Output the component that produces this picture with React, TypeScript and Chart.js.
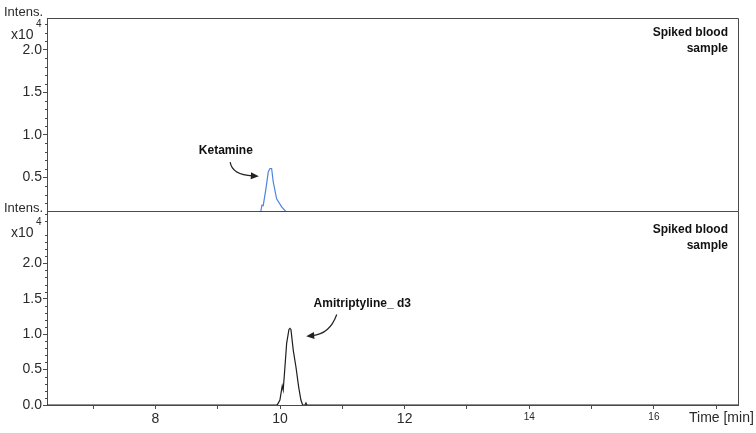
import React, { useEffect, useRef } from 'react';
import { Chart, registerables } from 'chart.js';

Chart.register(...registerables);

// ---------- data ----------
const ketTime = [6.26, 9.68, 9.693, 9.709, 9.73, 9.774, 9.811, 9.838, 9.865, 9.891, 9.945, 10.026, 10.095, 10.11, 17.35];
const ketIntensity = [0, 0, 0.11, 0.175, 0.17, 0.37, 0.566, 0.606, 0.606, 0.45, 0.25, 0.155, 0.1, 0, 0];

const amiTime = [6.26, 9.95, 9.961, 9.998, 10.035, 10.051, 10.079, 10.106, 10.143, 10.159, 10.175, 10.212, 10.255, 10.298, 10.335, 10.363, 10.40, 10.416, 10.43, 17.35];
const amiIntensity = [0, 0, 0.01, 0.07, 0.27, 0.21, 0.54, 0.87, 1.066, 1.08, 1.066, 0.775, 0.54, 0.26, 0.07, 0, 0, 0.03, 0, 0];

const xTickValues = [7, 8, 9, 10, 11, 12, 13, 14, 15, 16, 17];
const xLabelValues = [8, 10, 12, 14, 16];
const xSmallLabelValues = [14, 16];
const topYTicks = [0.5, 1.0, 1.5, 2.0];
const bottomYTicks = [0, 0.5, 1.0, 1.5, 2.0];

const sampleLines = ['Spiked blood', 'sample'];
const ketLabel = { text: 'Ketamine', x: 9.13, y: 0.82 };
const ketArrow = { from: [9.2, 0.68], ctrl: [9.23, 0.53], to: [9.66, 0.515] };
const amiLabel = { text: 'Amitriptyline_ d3', x: 11.32, y: 1.43 };
const amiArrow = { from: [10.91, 1.276], ctrl: [10.8, 1.0], to: [10.42, 0.97] };

const X_MIN = 6.26;
const X_MAX = 17.35;
const TOP_Y_MIN = 0.107;
const TOP_Y_MAX = 2.373;
const BOT_Y_MIN = 0;
const BOT_Y_MAX = 2.737;

// ---------- styles ----------
const FONT = "'Liberation Sans', Arial, Helvetica, sans-serif";
const AXIS_COLOR = '#4a4a4a';
const TEXT_COLOR = '#2a2a2a';
const BLUE = '#4f83e0';
const BLACK = '#1e1e1e';

function drawArrow(ctx: CanvasRenderingContext2D, x: any, y: any, arrow: any) {
  const p0 = [x.getPixelForValue(arrow.from[0]), y.getPixelForValue(arrow.from[1])];
  const c = [x.getPixelForValue(arrow.ctrl[0]), y.getPixelForValue(arrow.ctrl[1])];
  const p1 = [x.getPixelForValue(arrow.to[0]), y.getPixelForValue(arrow.to[1])];
  const ang = Math.atan2(p1[1] - c[1], p1[0] - c[0]);
  const headLen = 8;
  const headW = 3.5;
  const bx = p1[0] - Math.cos(ang) * headLen;
  const by = p1[1] - Math.sin(ang) * headLen;
  ctx.save();
  ctx.strokeStyle = '#222';
  ctx.fillStyle = '#222';
  ctx.lineWidth = 1.2;
  ctx.beginPath();
  ctx.moveTo(p0[0], p0[1]);
  ctx.quadraticCurveTo(c[0], c[1], bx + Math.cos(ang) * 2, by + Math.sin(ang) * 2);
  ctx.stroke();
  ctx.beginPath();
  ctx.moveTo(p1[0], p1[1]);
  ctx.lineTo(bx - Math.sin(ang) * headW, by + Math.cos(ang) * headW);
  ctx.lineTo(bx + Math.sin(ang) * headW, by - Math.cos(ang) * headW);
  ctx.closePath();
  ctx.fill();
  ctx.restore();
}

const decorPlugin = {
  id: 'decor',
  afterDraw(chart: any, _args: any, opts: any) {
    const { ctx, chartArea: a, scales } = chart;
    const x = scales.x;
    const y = scales.y;
    ctx.save();
    ctx.strokeStyle = AXIS_COLOR;
    ctx.lineWidth = 1;
    const L = Math.round(a.left) + 0.5;
    const T = Math.round(a.top) + 0.5;
    const R = Math.round(a.right) + 0.5;
    const B = Math.round(a.bottom) + 0.5;
    ctx.beginPath();
    ctx.moveTo(L, T);
    ctx.lineTo(R, T);
    ctx.lineTo(R, B);
    // minor y ticks every 0.1
    for (let v = Math.ceil(y.min * 10); v <= Math.floor(y.max * 10); v++) {
      if (v % 5 === 0) continue;
      const py = Math.round(y.getPixelForValue(v / 10)) + 0.5;
      ctx.moveTo(L - 2.5, py);
      ctx.lineTo(L, py);
    }
    ctx.stroke();

    ctx.fillStyle = TEXT_COLOR;
    ctx.textBaseline = 'middle';
    // Intens. / x10^4
    ctx.font = `13px ${FONT}`;
    ctx.textAlign = 'left';
    ctx.fillText('Intens.', 4, opts.intensY);
    ctx.font = `14px ${FONT}`;
    ctx.fillText('x10', 11, opts.expY);
    ctx.font = `10px ${FONT}`;
    ctx.fillText('4', 36, opts.expY - 11);

    // sample label
    ctx.font = `bold 12px ${FONT}`;
    ctx.textAlign = 'right';
    ctx.fillStyle = '#111';
    sampleLines.forEach((s, i) => ctx.fillText(s, a.right - 10, a.top + opts.sampleOffset + i * 15.5));

    // peak annotation
    const lab = opts.label;
    ctx.textAlign = 'center';
    ctx.fillText(lab.text, x.getPixelForValue(lab.x), y.getPixelForValue(lab.y));
    ctx.restore();
    drawArrow(ctx, x, y, opts.arrow);

    if (opts.timeLabel) {
      ctx.save();
      ctx.fillStyle = TEXT_COLOR;
      ctx.font = `14px ${FONT}`;
      ctx.textAlign = 'left';
      ctx.textBaseline = 'middle';
      ctx.fillText('Time [min]', a.right - 49, a.bottom + 13);
      ctx.restore();
    }
  },
};

function makeConfig(kind: 'top' | 'bottom'): any {
  const isTop = kind === 'top';
  const times = isTop ? ketTime : amiTime;
  const vals = isTop ? ketIntensity : amiIntensity;
  return {
    type: 'line',
    data: {
      datasets: [
        {
          data: times.map((t, i) => ({ x: t, y: vals[i] })),
          borderColor: isTop ? BLUE : BLACK,
          borderWidth: 1.2,
          pointRadius: 0,
          tension: 0,
          fill: false,
          clip: 0,
        },
      ],
    },
    options: {
      animation: false,
      responsive: false,
      maintainAspectRatio: false,
      events: [],
      layout: { padding: { left: 0, right: 18, top: isTop ? 18 : 16, bottom: isTop ? 1 : 0 } },
      plugins: {
        legend: { display: false },
        tooltip: { enabled: false },
        decor: {
          intensY: isTop ? 12.5 : 13,
          expY: isTop ? 35 : 38,
          sampleOffset: isTop ? 15 : 19,
          label: isTop ? ketLabel : amiLabel,
          arrow: isTop ? ketArrow : amiArrow,
          timeLabel: !isTop,
        },
      },
      scales: {
        x: {
          type: 'linear',
          display: !isTop,
          min: X_MIN,
          max: X_MAX,
          afterBuildTicks: (s: any) => {
            s.ticks = xTickValues.map((v) => ({ value: v }));
          },
          afterFit: (s: any) => {
            s.height = isTop ? 0 : 28;
            s.paddingLeft = 0;
            s.paddingRight = 0;
          },
          grid: { display: true, drawOnChartArea: false, drawTicks: true, tickLength: 4, color: AXIS_COLOR },
          border: { display: true, color: AXIS_COLOR, width: 1 },
          ticks: {
            autoSkip: false,
            maxRotation: 0,
            padding: 2,
            color: TEXT_COLOR,
            font: (ctx: any) => ({
              family: FONT,
              size: ctx.tick && xSmallLabelValues.includes(ctx.tick.value) ? 10 : 14,
            }),
            callback: (v: any) => (xLabelValues.includes(Number(v)) ? String(v) : ''),
          },
        },
        y: {
          type: 'linear',
          min: isTop ? TOP_Y_MIN : BOT_Y_MIN,
          max: isTop ? TOP_Y_MAX : BOT_Y_MAX,
          afterBuildTicks: (s: any) => {
            s.ticks = (isTop ? topYTicks : bottomYTicks).map((v) => ({ value: v }));
          },
          afterFit: (s: any) => {
            s.width = 47;
            s.paddingTop = 0;
            s.paddingBottom = 0;
          },
          grid: { display: true, drawOnChartArea: false, drawTicks: true, tickLength: 4, color: AXIS_COLOR },
          border: { display: true, color: AXIS_COLOR, width: 1 },
          ticks: {
            padding: 1,
            color: TEXT_COLOR,
            font: { family: FONT, size: 14 },
            callback: (v: any) => Number(v).toFixed(1),
          },
        },
      },
    },
    plugins: [decorPlugin],
  };
}

export default function App() {
  const topRef = useRef<HTMLCanvasElement | null>(null);
  const botRef = useRef<HTMLCanvasElement | null>(null);

  useEffect(() => {
    const c1 = new Chart(topRef.current as HTMLCanvasElement, makeConfig('top'));
    const c2 = new Chart(botRef.current as HTMLCanvasElement, makeConfig('bottom'));
    return () => {
      c1.destroy();
      c2.destroy();
    };
  }, []);

  return (
    <div style={{ position: 'absolute', left: 0, top: 0, width: 756, height: 433, background: '#fff', overflow: 'hidden' }}>
      <canvas ref={topRef} width={756} height={212} style={{ position: 'absolute', left: 0, top: 0, width: 756, height: 212 }} />
      <canvas ref={botRef} width={756} height={238} style={{ position: 'absolute', left: 0, top: 195, width: 756, height: 238 }} />
    </div>
  );
}
